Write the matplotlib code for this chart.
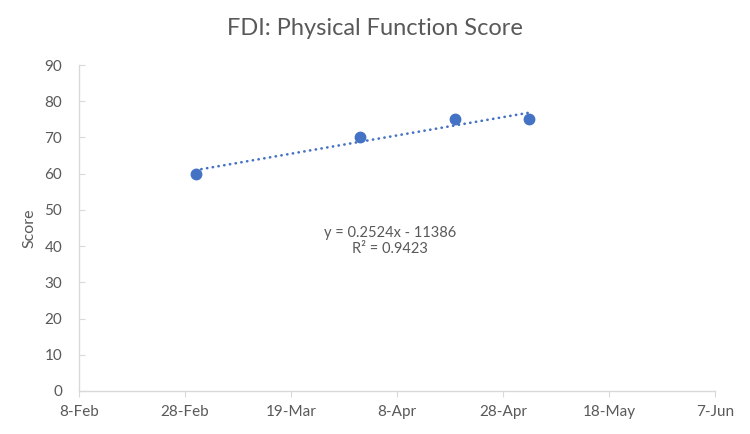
import numpy as np
import pandas as pd
import matplotlib
matplotlib.use("Agg")
import matplotlib.pyplot as plt
import matplotlib.dates as mdates

# data
dates = ["2024-03-01", "2024-04-01", "2024-04-19", "2024-05-03"]
scores = [60, 70, 75, 75]
tick_dates = ["2024-02-08", "2024-02-28", "2024-03-19", "2024-04-08",
              "2024-04-28", "2024-05-18", "2024-06-07"]
y_ticks = [0, 10, 20, 30, 40, 50, 60, 70, 80, 90]

blue = "#4472C4"
grey_txt = "#595959"
grey_ax = "#D9D9D9"

plt.rcParams["font.family"] = ["Lato", "DejaVu Sans"]

x = pd.to_datetime(dates)
xn = mdates.date2num(x)
ticks = mdates.date2num(pd.to_datetime(tick_dates))

# linear trendline (Excel style, on serial dates)
serial = xn + 25569
m, b = np.polyfit(serial, scores, 1)
pred = m * serial + b
r2 = 1 - np.sum((np.array(scores) - pred) ** 2) / np.sum((np.array(scores) - np.mean(scores)) ** 2)

fig = plt.figure(figsize=(7.5, 4.34), dpi=100)
ax = fig.add_axes([0.1053, 0.0991, 0.848, 0.751])

xl = np.array([xn.min(), xn.max()])
ax.plot(xl, m * (xl + 25569) + b, color=blue, lw=1.9,
        linestyle=(0, (0.1, 2.1)), dash_capstyle="round", zorder=2)
ax.plot(xn, scores, "o", color=blue, markersize=7.5, zorder=3)

ax.set_xlim(ticks[0], ticks[-1])
ax.set_ylim(0, 90)
ax.set_xticks(ticks)
ax.set_xticklabels([pd.Timestamp(d).strftime("%-d-%b") for d in tick_dates])
ax.set_yticks(y_ticks)

for s in ["top", "right"]:
    ax.spines[s].set_visible(False)
for s in ["left", "bottom"]:
    ax.spines[s].set_color(grey_ax)
    ax.spines[s].set_linewidth(1.0)

ax.tick_params(axis="x", direction="out", length=4, color=grey_ax,
               labelsize=11, labelcolor=grey_txt, pad=6)
ax.tick_params(axis="y", direction="in", length=4, color=grey_ax,
               labelsize=11, labelcolor=grey_txt, pad=12)

sign = "-" if b < 0 else "+"
ax.text(0.489, 0.460, f"y = {m:.4f}x {sign} {abs(b):.0f}\nR\u00b2 = {r2:.4f}",
        transform=ax.transAxes, ha="center", va="center",
        fontsize=10.5, color=grey_txt, linespacing=1.25)

fig.text(0.5, 0.935, "FDI: Physical Function Score", ha="center", va="center",
         fontsize=17, color=grey_txt)
fig.text(0.039, 0.475, "Score", rotation=90, ha="center", va="center",
         fontsize=11.5, color=grey_txt)

fig.savefig("out.png", dpi=100)
